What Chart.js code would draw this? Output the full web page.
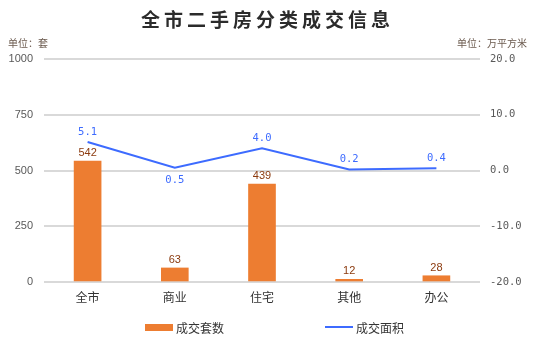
<!DOCTYPE html>
<html>
<head>
<meta charset="utf-8">
<script src="https://cdn.jsdelivr.net/npm/chart.js@4/dist/chart.umd.min.js"></script>
<style>
   html, body { margin: 0; padding: 0; background: #fff; }
   #wrap { position: relative; width: 535px; height: 340px; }
   #titulo {
      position: absolute; left: 0; top: 5px; width: 535px; text-align: center;
      font: bold 19px "Noto Sans CJK SC", sans-serif; letter-spacing: 4px; color: #2b2b2b;
   }
   .unidade {
      position: absolute; top: 35px; font: 10px "Noto Sans CJK SC", sans-serif; color: #6b5a4e;
   }
   #unidade_esq { left: 8px; }
   #unidade_dir { right: 8px; }
</style>
</head>
<body>
<div id="wrap">
   <canvas id="grafico" width="535" height="340"></canvas>
   <div id="titulo">全市二手房分类成交信息</div>
   <div class="unidade" id="unidade_esq">单位：套</div>
   <div class="unidade" id="unidade_dir">单位：万平方米</div>
</div>
<script>
const categorias = ['全市', '商业', '住宅', '其他', '办公'];
const tituloBarras = '成交套数';
const tituloLinha = '成交面积';
const qtdSuites = [542, 63, 439, 12, 28];
const areaTotal = [5.1, 0.5, 4.0, 0.2, 0.4];
const ladoRotulo = ['top', 'bottom', 'top', 'top', 'top'];

const corBarra = '#ED7D31';
const corLinha = '#3D6BFF';
const fonteMono = '"DejaVu Sans Mono", monospace';

// rotulos de valor em cima das barras e dos pontos da linha
const rotulos = {
   id: 'rotulos',
   afterDatasetsDraw(chart) {
      const ctx = chart.ctx;
      ctx.save();
      ctx.textAlign = 'center';
      ctx.textBaseline = 'middle';
      chart.data.datasets.forEach((ds, i) => {
         const meta = chart.getDatasetMeta(i);
         meta.data.forEach((el, j) => {
            if (ds.type === 'bar') {
               ctx.font = '11px "Liberation Sans", Arial, sans-serif';
               ctx.fillStyle = '#8B3A0E';
               ctx.fillText(String(ds.data[j]), el.x, el.y - 8);
            } else {
               ctx.font = '10.5px ' + fonteMono;
               ctx.fillStyle = corLinha;
               const y = ladoRotulo[j] === 'bottom' ? el.y + 13 : el.y - 10;
               ctx.fillText(ds.data[j].toFixed(1), el.x, y);
            }
         });
      });
      ctx.restore();
   }
};

// legenda desenhada na parte de baixo
const legenda = {
   id: 'legenda',
   afterDraw(chart) {
      const ctx = chart.ctx;
      ctx.save();
      ctx.font = '12px "Noto Sans CJK SC", sans-serif';
      ctx.textBaseline = 'middle';
      ctx.fillStyle = corBarra;
      ctx.fillRect(145, 324, 28, 7);
      ctx.fillStyle = '#333';
      ctx.fillText(tituloBarras, 176, 328);
      ctx.strokeStyle = corLinha;
      ctx.lineWidth = 2;
      ctx.beginPath();
      ctx.moveTo(325, 327);
      ctx.lineTo(353, 327);
      ctx.stroke();
      ctx.fillText(tituloLinha, 356, 328);
      ctx.restore();
   }
};

new Chart(document.getElementById('grafico'), {
   data: {
      labels: categorias,
      datasets: [{
         type: 'line',
         label: tituloLinha,
         data: areaTotal,
         yAxisID: 'y2',
         borderColor: corLinha,
         borderWidth: 2,
         pointRadius: 0,
         tension: 0,
         order: 0
      }, {
         type: 'bar',
         label: tituloBarras,
         data: qtdSuites,
         yAxisID: 'y',
         backgroundColor: corBarra,
         barThickness: 27,
         order: 1
      }]
   },
   options: {
      responsive: false,
      animation: false,
      layout: { padding: { top: 59, bottom: 26, left: 0, right: 0 } },
      plugins: { legend: { display: false }, tooltip: { enabled: false } },
      scales: {
         x: {
            grid: { display: false, drawTicks: false },
            border: { display: false },
            ticks: { color: '#333', padding: 8, font: { size: 12, family: '"Noto Sans CJK SC", sans-serif' } },
            afterFit(axis) { axis.height = 32; }
         },
         y: {
            position: 'left',
            min: 0, max: 1000,
            ticks: {
               stepSize: 250, color: '#595959', padding: 11,
               font: { size: 11, family: '"Liberation Sans", Arial, sans-serif' },
               callback: v => String(v)
            },
            grid: { color: '#d9d9d9', lineWidth: 2, drawTicks: false },
            border: { display: false },
            afterFit(axis) { axis.width = 44; }
         },
         y2: {
            position: 'right',
            min: -20, max: 20,
            ticks: {
               stepSize: 10, color: '#595959', padding: 10,
               font: { size: 10.5, family: fonteMono },
               callback: v => v.toFixed(1)
            },
            grid: { display: false, drawTicks: false },
            border: { display: false },
            afterFit(axis) { axis.width = 55; }
         }
      }
   },
   plugins: [rotulos, legenda]
});
</script>
</body>
</html>
